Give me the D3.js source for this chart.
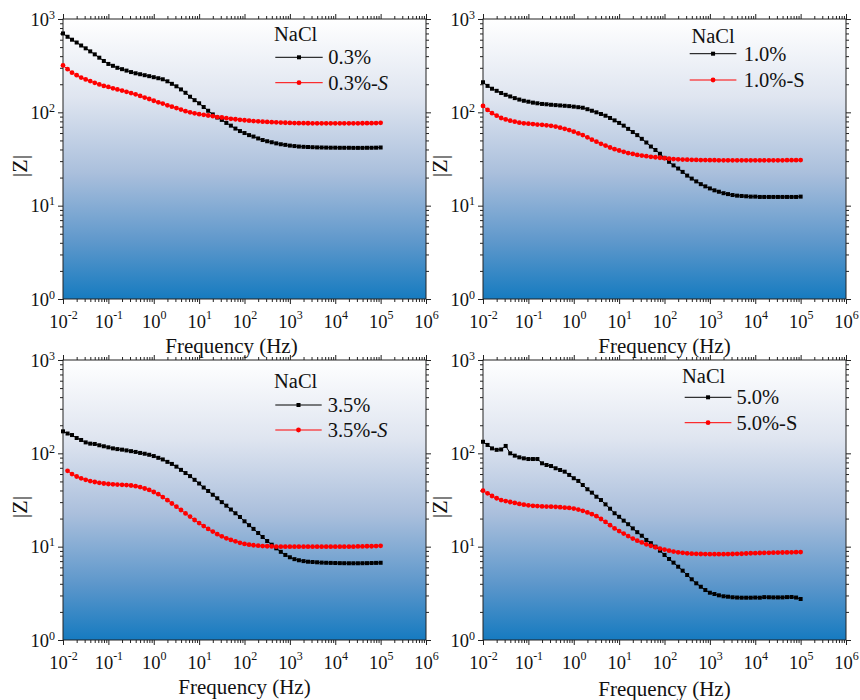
<!DOCTYPE html>
<html>
<head>
<meta charset="utf-8">
<script src="https://cdn.jsdelivr.net/npm/d3@7/dist/d3.min.js"></script>
<style>
  body { margin: 0; background: #fff; }
  svg { display: block; }
  text { font-family: "Liberation Serif", "Times New Roman", serif; fill: #111; }
</style>
</head>
<body>
<svg id="chart" width="860" height="700"></svg>
<script>
// Measurement frequencies (Hz), 10 points per decade
const freqHz = [
  0.01, 0.0126, 0.0158, 0.02, 0.0251, 0.0316, 0.0398, 0.0501, 0.0631, 0.0794,
  0.1, 0.126, 0.158, 0.2, 0.251, 0.316, 0.398, 0.501, 0.631, 0.794,
  1, 1.26, 1.58, 2, 2.51, 3.16, 3.98, 5.01, 6.31, 7.94,
  10, 12.6, 15.8, 20, 25.1, 31.6, 39.8, 50.1, 63.1, 79.4,
  100, 126, 158, 200, 251, 316, 398, 501, 631, 794,
  1000, 1260, 1580, 2000, 2510, 3160, 3980, 5010, 6310, 7940,
  10000, 12600, 15800, 20000, 25100, 31600, 39800, 50100, 63100, 79400,
  100000
];

// NaCl concentrations, one panel each
const concentrations = ["0.3%", "1.0%", "3.5%", "5.0%"];
const legendTitle = "NaCl";

// |Z| values for the plain samples
const zPlain03 = [
  700, 645, 600, 560, 520, 485, 450, 418, 385, 355,
  330, 315, 300, 290, 280, 270, 262, 256, 250, 244,
  238, 232, 226, 215, 202, 190, 176, 162, 147, 135,
  125, 114, 104, 95, 88, 83, 77, 72, 67, 63,
  60, 57, 55, 52.5, 50.5, 49, 47.8, 46.5, 45.5, 44.8,
  44.0, 43.5, 43.0, 42.7, 42.5, 42.3, 42.1, 42.0, 41.9, 41.8,
  41.8, 41.7, 41.7, 41.7, 41.6, 41.6, 41.6, 41.7, 41.7, 41.8,
  42.0
];
const zPlain10 = [
  210, 192, 179, 170, 161, 154, 148, 142, 137, 133,
  130, 127, 125, 123, 122, 120.5, 119.5, 118.5, 117.5, 116.5,
  115, 113.5, 112, 108, 104, 100, 96, 92, 87, 82,
  77, 72, 66.5, 61.5, 57, 52, 47.5, 43, 39.5, 36,
  32.5, 29.5, 27, 25, 23, 21, 19.5, 18.2, 17, 16.1,
  15.3, 14.6, 14.1, 13.6, 13.3, 13.0, 12.8, 12.7, 12.6, 12.5,
  12.5, 12.4, 12.4, 12.4, 12.4, 12.4, 12.4, 12.4, 12.4, 12.4,
  12.5
];
const zPlain35 = [
  172, 163, 157, 146, 139, 131, 127, 126, 122, 119,
  116, 113, 111, 109.5, 107.5, 105.5, 103.5, 101, 99, 96.5,
  93.5, 89.5, 86, 81, 77, 72, 66.5, 61.5, 57, 52,
  47.5, 43, 39.5, 36, 33, 30, 27.5, 25, 22.8, 20.8,
  18.7, 17, 15.5, 14, 12.7, 11.5, 10.5, 9.6, 8.8, 8.15,
  7.7, 7.35, 7.15, 7.0, 6.9, 6.85, 6.8, 6.75, 6.72, 6.7,
  6.68, 6.66, 6.65, 6.64, 6.64, 6.64, 6.65, 6.66, 6.68, 6.7,
  6.72
];
const zPlain50 = [
  133, 123, 113, 109, 110, 120, 100, 94.4, 90.6, 88.4,
  86.9, 86.9, 86.9, 78.2, 75, 73.1, 69.2, 66.3, 63.6, 58.7,
  54.1, 50.6, 45.8, 41.2, 37.9, 34.3, 31.6, 28.4, 25.5, 22.8,
  20.9, 19.0, 17.4, 15.7, 14.3, 13.1, 11.8, 10.9, 10.0, 9.06,
  8.15, 7.38, 6.74, 6.1, 5.53, 4.97, 4.47, 4.05, 3.72, 3.43,
  3.21, 3.11, 3.01, 2.94, 2.91, 2.87, 2.85, 2.84, 2.84, 2.84,
  2.85, 2.84, 2.88, 2.87, 2.86, 2.86, 2.86, 2.88, 2.89, 2.85,
  2.75
];

// |Z| values for the "-S" samples
const zS03 = [
  318, 290, 266, 250, 236, 225, 216, 207, 199, 192,
  187, 181, 176, 171, 166, 161, 156, 150, 144, 139,
  133, 128, 124, 119, 115, 111, 107, 103, 100, 97.5,
  95.5, 94, 92.5, 91, 89, 88, 86.5, 85.3, 84.3, 83.2,
  82.3, 81.5, 80.7, 80.1, 79.5, 79.0, 78.5, 78.1, 77.7, 77.3,
  77.0, 76.8, 76.6, 76.5, 76.4, 76.3, 76.2, 76.2, 76.2, 76.2,
  76.2, 76.2, 76.2, 76.2, 76.3, 76.3, 76.4, 76.5, 76.6, 76.8,
  77.2
];
const zS10 = [
  117, 106, 98, 92, 87, 84, 81.5, 79.5, 77.5, 76.3,
  75.5, 74.8, 74, 73.4, 72.5, 71.6, 70.3, 68.5, 66.5, 64.5,
  62, 59.5, 57, 54, 51, 48.5, 46, 44, 42, 40.3,
  39, 37.7, 36.6, 35.8, 35, 34.4, 33.9, 33.4, 33, 32.6,
  32.2, 31.8, 31.6, 31.4, 31.2, 31.1, 31.0, 30.9, 30.8, 30.8,
  30.7, 30.7, 30.6, 30.6, 30.6, 30.6, 30.6, 30.6, 30.6, 30.6,
  30.6, 30.6, 30.6, 30.6, 30.6, 30.6, 30.6, 30.7, 30.7, 30.7,
  30.8
];
const zS35 = [
  null, 65, 60, 56.5, 54, 52, 50.5, 49.3, 48.3, 47.5,
  46.9, 46.6, 46.3, 46, 45.7, 45.2, 44.5, 43.5, 42, 40.5,
  38.5, 36.5, 34, 31.5, 29, 26.8, 24.7, 22.7, 21, 19.3,
  17.9, 16.6, 15.5, 14.5, 13.6, 12.9, 12.3, 11.8, 11.4, 11.0,
  10.7, 10.5, 10.35, 10.25, 10.15, 10.1, 10.05, 10.0, 10.0, 10.0,
  10.0, 10.0, 10.0, 10.0, 10.0, 10.0, 10.0, 10.0, 10.0, 10.0,
  10.0, 10.0, 10.0, 10.0, 10.0, 10.05, 10.05, 10.1, 10.1, 10.15,
  10.2
];
const zS50 = [
  39.8, 37.3, 34.9, 33.0, 31.6, 30.8, 30.1, 29.4, 28.7, 28.2,
  27.7, 27.4, 27.2, 27.0, 26.9, 26.8, 26.7, 26.5, 26.2, 26.0,
  25.6, 25.0, 24.2, 23.3, 22.3, 21.2, 19.8, 18.4, 17.0, 15.7,
  14.7, 13.8, 13.0, 12.2, 11.6, 11.1, 10.6, 10.2, 9.85, 9.55,
  9.3, 9.05, 8.85, 8.7, 8.58, 8.48, 8.42, 8.38, 8.35, 8.32,
  8.3, 8.3, 8.3, 8.3, 8.32, 8.35, 8.38, 8.4, 8.45, 8.5,
  8.52, 8.55, 8.58, 8.6, 8.62, 8.65, 8.66, 8.68, 8.7, 8.72,
  8.75
];

// Axis ticks
const xMajor = [1e-2, 1e-1, 1e0, 1e1, 1e2, 1e3, 1e4, 1e5, 1e6];
const yMajor = [1, 10, 100, 1000];
const minorMultipliers = [2, 3, 4, 5, 6, 7, 8, 9];

const plainSeries = [zPlain03, zPlain10, zPlain35, zPlain50];
const coatedSeries = [zS03, zS10, zS35, zS50];
const italicS = [true, false, true, false];

// Panel layout: plot-area origin, legend placement, title offsets
const W = 363, H = 280;
const layout = [
  { x: 63,  y: 19,  title: [211, 22], rows: [38.3, 63.7], line: [212.3, 259.7], lab: 265.3, xlab: -13, xlabDy: 54 },
  { x: 483, y: 19,  title: [208.4, 23.7], rows: [34.7, 61], line: [206.7, 253.4], lab: 260.7, xlab: 0, xlabDy: 54 },
  { x: 63,  y: 360, title: [211, 28], rows: [45, 70], line: [212.3, 258.7], lab: 264.7, xlab: 0, xlabDy: 53.5 },
  { x: 483, y: 360, title: [199, 23], rows: [37.3, 62.7], line: [201.7, 248.4], lab: 253.4, xlab: 0, xlabDy: 56 }
];

const svg = d3.select("#chart");

// Background gradient of the plot areas
const grad = svg.append("defs").append("linearGradient")
  .attr("id", "plotBg").attr("x1", 0).attr("y1", 0).attr("x2", 0).attr("y2", 1);
[[0, "#ffffff"], [0.28, "#dfe5f0"], [0.55, "#aabfdc"], [0.8, "#5d97cb"], [1, "#167bc0"]]
  .forEach(([o, c]) => grad.append("stop").attr("offset", o).attr("stop-color", c));

const x = d3.scaleLog().domain([1e-2, 1e6]).range([0, W]);
const y = d3.scaleLog().domain([1, 1000]).range([H, 0]);

const xMinor = [];
xMajor.slice(0, -1).forEach(d => minorMultipliers.forEach(m => xMinor.push(d * m)));
const yMinor = [];
yMajor.slice(0, -1).forEach(d => minorMultipliers.forEach(m => yMinor.push(d * m)));

function styleAxis(g) {
  g.attr("font-family", null).attr("font-size", null);
  g.select(".domain").remove();
  g.selectAll(".tick line").attr("stroke", "#222").attr("stroke-width", 1);
}

function powerLabels(g, horizontal) {
  g.selectAll(".tick text").each(function (d) {
    const t = d3.select(this);
    t.text(null).attr("dy", null).attr("font-size", 18.5);
    if (horizontal) t.attr("y", 29);
    else t.attr("x", -8).attr("y", 6);
    t.append("tspan").text("10");
    t.append("tspan").attr("dy", horizontal ? -9 : -7).attr("font-size", 12)
      .text(Math.round(Math.log10(d)));
  });
}

const line = d3.line()
  .defined(d => d.z != null)
  .x(d => x(d.f))
  .y(d => y(d.z));

layout.forEach((L, i) => {
  const g = svg.append("g").attr("transform", `translate(${L.x},${L.y})`);

  g.append("rect").attr("width", W).attr("height", H).attr("fill", "url(#plotBg)");

  // Axes: major + minor ticks on all four sides, pointing outward
  const addAxis = (gen, tr, vals, size, labelled) => {
    const a = g.append("g").attr("transform", tr)
      .call(gen.tickValues(vals).tickSize(size).tickSizeOuter(0)
        .tickFormat(labelled ? d3.format("") : () => ""));
    styleAxis(a);
    return a;
  };
  const xb = addAxis(d3.axisBottom(x), `translate(0,${H})`, xMajor, 5, true);
  powerLabels(xb, true);
  addAxis(d3.axisBottom(x), `translate(0,${H})`, xMinor, 3, false);
  const yl = addAxis(d3.axisLeft(y), "translate(0,0)", yMajor, 5, true);
  powerLabels(yl, false);
  addAxis(d3.axisLeft(y), "translate(0,0)", yMinor, 3, false);
  addAxis(d3.axisTop(x), "translate(0,0)", xMajor, 5, false);
  addAxis(d3.axisTop(x), "translate(0,0)", xMinor, 3, false);
  addAxis(d3.axisRight(y), `translate(${W},0)`, yMajor, 5, false);
  addAxis(d3.axisRight(y), `translate(${W},0)`, yMinor, 3, false);

  g.append("rect").attr("width", W).attr("height", H)
    .attr("fill", "none").attr("stroke", "#222").attr("stroke-width", 1);

  // Axis titles
  g.append("text").attr("x", W / 2 + L.xlab).attr("y", H + L.xlabDy)
    .attr("text-anchor", "middle").attr("font-size", 21).text("Frequency (Hz)");
  g.append("text").attr("transform", `translate(${-36},${147}) rotate(-90)`)
    .attr("text-anchor", "middle").attr("font-size", 22).text("|Z|");

  // Data series
  const plain = freqHz.map((f, k) => ({ f, z: plainSeries[i][k] }));
  const coated = freqHz.map((f, k) => ({ f, z: coatedSeries[i][k] }));

  g.append("path").datum(plain).attr("d", line)
    .attr("fill", "none").attr("stroke", "#000").attr("stroke-width", 1);
  g.append("path").datum(coated).attr("d", line)
    .attr("fill", "none").attr("stroke", "#ff0000").attr("stroke-width", 1);

  g.append("g").selectAll("rect").data(plain.filter(d => d.z != null)).join("rect")
    .attr("x", d => x(d.f) - 2).attr("y", d => y(d.z) - 2)
    .attr("width", 4).attr("height", 4).attr("fill", "#000");
  g.append("g").selectAll("circle").data(coated.filter(d => d.z != null)).join("circle")
    .attr("cx", d => x(d.f)).attr("cy", d => y(d.z)).attr("r", 2.4).attr("fill", "#ff0000");

  // Legend
  g.append("text").attr("x", L.title[0]).attr("y", L.title[1]).attr("font-size", 20.5).text(legendTitle);
  const mid = (L.line[0] + L.line[1]) / 2;
  [0, 1].forEach(r => {
    const ry = L.rows[r];
    const col = r === 0 ? "#000" : "#ff0000";
    g.append("line").attr("x1", L.line[0]).attr("x2", L.line[1]).attr("y1", ry).attr("y2", ry)
      .attr("stroke", col).attr("stroke-width", 1);
    if (r === 0) {
      g.append("rect").attr("x", mid - 2).attr("y", ry - 2).attr("width", 4).attr("height", 4).attr("fill", col);
    } else {
      g.append("circle").attr("cx", mid).attr("cy", ry).attr("r", 2.4).attr("fill", col);
    }
    const t = g.append("text").attr("x", L.lab).attr("y", ry + 7).attr("font-size", 20.5);
    if (r === 0) {
      t.text(concentrations[i]);
    } else {
      t.append("tspan").text(concentrations[i] + "-");
      t.append("tspan").attr("font-style", italicS[i] ? "italic" : null).text("S");
    }
  });
});
</script>
</body>
</html>
